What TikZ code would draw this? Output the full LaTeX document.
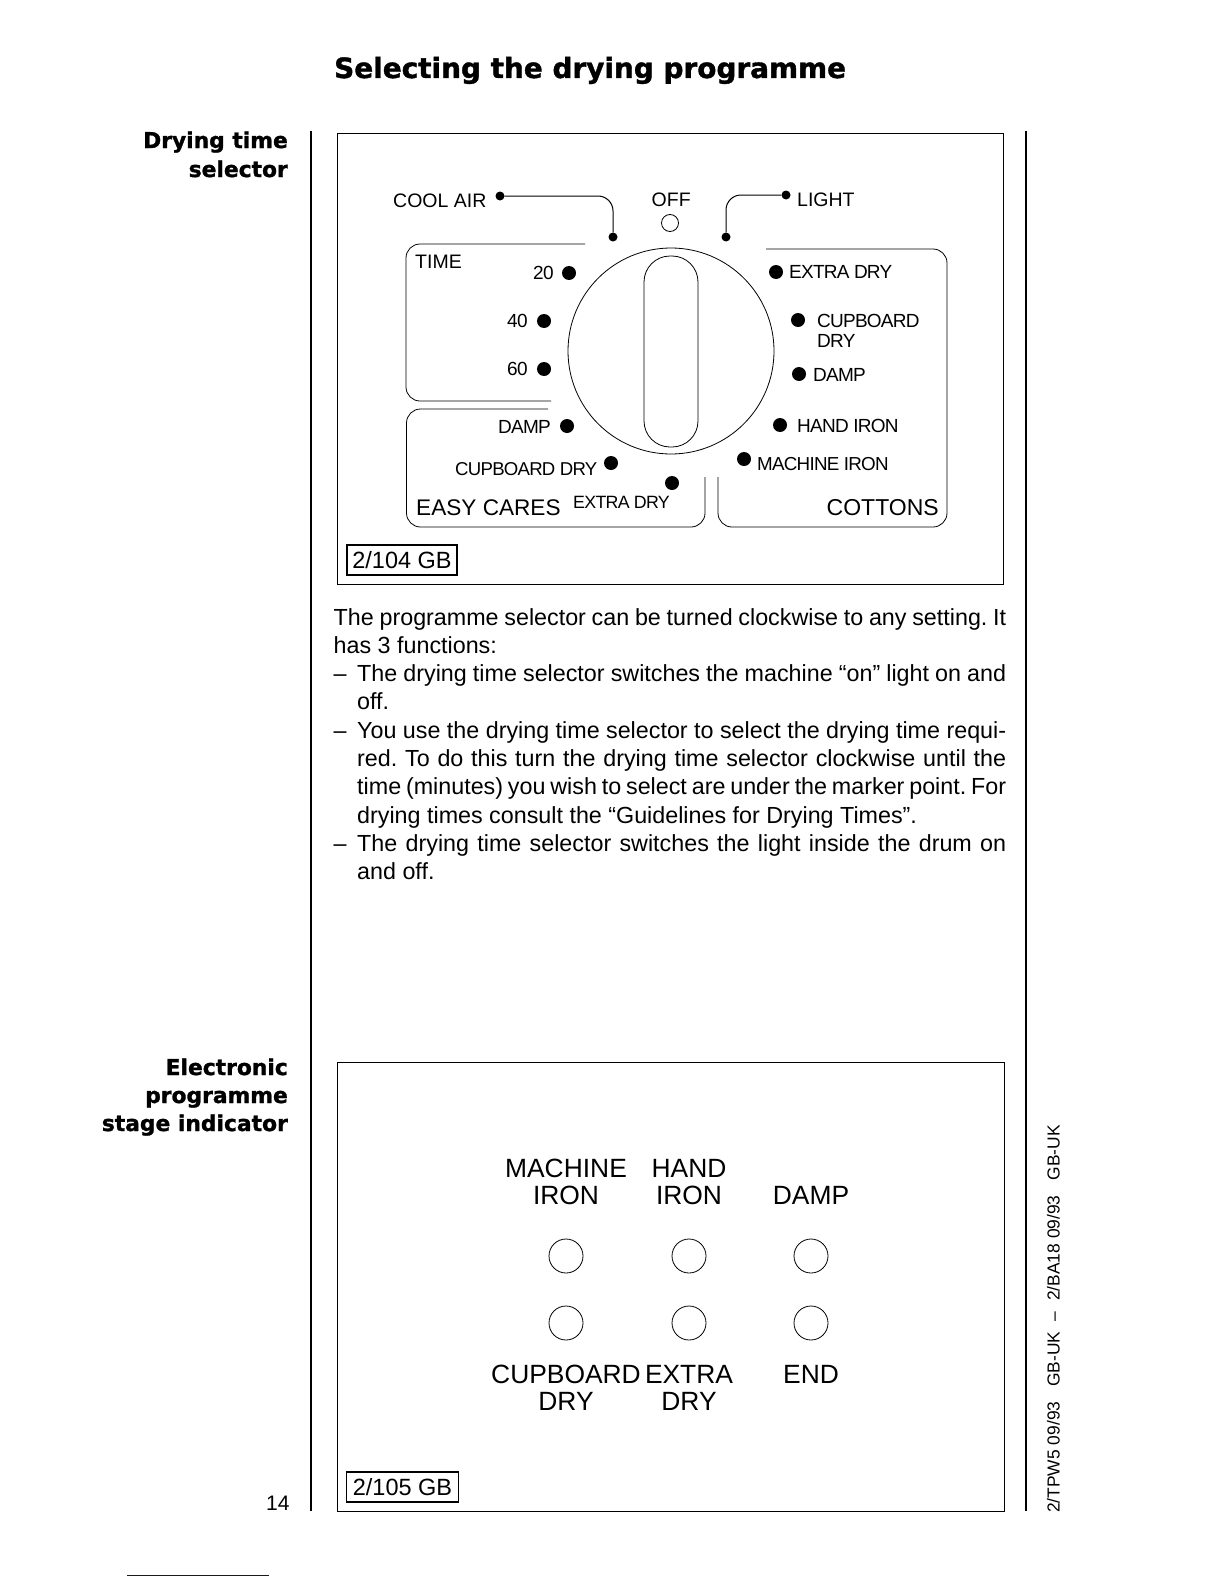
\documentclass[tikz,border=0pt]{standalone}
\usepackage{fontspec}
\setmainfont{Liberation Sans}
\newfontfamily\headfont[FakeBold=1.3]{DejaVu Sans Bold}
\newfontfamily\tightfont[LetterSpace=-4]{Liberation Sans}
\definecolor{pageblue}{RGB}{10,10,150}
\frenchspacing
\tikzset{
    txt/.style={anchor=base west, inner sep=0pt},
    plainlbl/.style={txt, font=\fontsize{19.5}{23}\selectfont},
    tightlbl/.style={txt, font=\tightfont\fontsize{19}{20}\selectfont},
    biglbl/.style={txt, font=\fontsize{22.6}{27}\selectfont},
    paneltxt/.style={anchor=base, inner sep=0pt, font=\fontsize{26.4}{27}\selectfont},
    bigdot/.style={circle, fill=black, inner sep=0pt, minimum size=14},
    smalldot/.style={circle, fill=black, inner sep=0pt, minimum size=9},
    lamp/.style={circle, draw, line width=0.8pt, inner sep=0pt, minimum size=34},
    tagbox/.style={draw, line width=1.1pt, inner sep=0pt, font=\fontsize{23.5}{26}\selectfont},
    bodytxt/.style={anchor=north west, inner sep=0pt, align=justify, font=\fontsize{23.3}{28.3}\selectfont},
    sidehead/.style={anchor=base east, inner sep=0pt, font=\headfont\fontsize{21.8}{25}\selectfont}
}
\begin{document}
\begin{tikzpicture}[x=1pt, y=-1pt]
    \useasboundingbox (0,0) rectangle (1224,1584);

    %Ueberschriften
    \node (title) at (334,78) [txt, font=\headfont\fontsize{27.9}{30}\selectfont] {Selecting the drying programme};
    \node (headone) at (288,148) [sidehead] {Drying time};
    \node (headtwo) at (288,177) [sidehead] {selector};
    \node (headthree) at (288,1075) [sidehead] {Electronic};
    \node (headfour) at (288,1103) [sidehead] {programme};
    \node (headfive) at (288,1131) [sidehead] {stage indicator};
    \node (pageno) at (266,1510) [txt, font=\fontsize{21}{24}\selectfont] {14};

    %Linien und Rahmen
    \draw[line width=1.5pt] (311,131) -- (311,1511);
    \draw[line width=1.5pt] (1026,131) -- (1026,1511);
    \draw[line width=1pt] (337,134) rectangle (1003,584);
    \draw[line width=1pt] (337,1062) rectangle (1004,1511);
    \draw[line width=1pt, pageblue] (127,1575) -- (269,1575);

    %Drehknopf
    \node (dial) at (671,351) [circle, draw, line width=0.8pt, inner sep=0pt, minimum size=206] {};
    \node (grip) at (671,351.5) [draw, line width=0.8pt, rounded corners=26, inner sep=0pt, minimum width=54, minimum height=191] {};
    \draw[line width=0.8pt, rounded corners=14] (585,244) -- (406,244) -- (406,401) -- (551,401);
    \draw[line width=0.8pt, rounded corners=14] (548,409) -- (406.5,409) -- (406.5,527) -- (705,527) -- (705,477);
    \draw[line width=0.8pt, rounded corners=14] (766,249) -- (947,249) -- (947,527) -- (718,527) -- (718,477);

    %obere Beschriftung
    \node (coolair) at (393,207) [plainlbl] {COOL AIR};
    \node (off) at (651.5,206) [plainlbl] {OFF};
    \node (light) at (797,206) [plainlbl] {LIGHT};
    \node (offlamp) at (670,223) [circle, draw, line width=0.8pt, inner sep=0pt, minimum size=17] {};
    \node (coolstart) at (500,196) [smalldot] {};
    \node (coolend) at (613,237) [smalldot] {};
    \node (lightstart) at (786,195) [smalldot] {};
    \node (lightend) at (726,237) [smalldot] {};
    \draw[line width=1pt, rounded corners=15] (coolstart) -| (coolend);
    \draw[line width=1pt, rounded corners=15] (lightstart) -| (lightend);

    %Zeit
    \node (time) at (415,268) [plainlbl] {TIME};
    \node (t20) at (533,279) [tightlbl] {20};
    \node (t40) at (507,327) [tightlbl] {40};
    \node (t60) at (507,375) [tightlbl] {60};
    \node (dott20) at (569,273) [bigdot] {};
    \node (dott40) at (544,321) [bigdot] {};
    \node (dott60) at (544,369) [bigdot] {};

    %Easy Cares
    \node (edamp) at (498,433) [tightlbl] {DAMP};
    \node (ecup) at (455,475) [tightlbl, font=\tightfont\fontsize{18.6}{20}\selectfont] {CUPBOARD DRY};
    \node (eextra) at (573,508) [tightlbl, font=\tightfont\fontsize{17.8}{20}\selectfont] {EXTRA DRY};
    \node (easy) at (416,515) [biglbl] {EASY CARES};
    \node (dotedamp) at (567,426) [bigdot] {};
    \node (dotecup) at (611,463) [bigdot] {};
    \node (doteextra) at (672,483) [bigdot] {};

    %Cottons
    \node (cextra) at (789,278) [tightlbl] {EXTRA DRY};
    \node (ccup) at (817,327) [tightlbl] {CUPBOARD};
    \node (ccupb) at (817,347) [tightlbl] {DRY};
    \node (cdamp) at (813,381) [tightlbl] {DAMP};
    \node (chand) at (797,432) [tightlbl] {HAND IRON};
    \node (cmach) at (757,470) [tightlbl, font=\tightfont\fontsize{18.8}{20}\selectfont] {MACHINE IRON};
    \node (cottons) at (826.5,515) [biglbl, font=\fontsize{23}{27}\selectfont] {COTTONS};
    \node (dotcextra) at (776,272) [bigdot] {};
    \node (dotccup) at (798,320) [bigdot] {};
    \node (dotcdamp) at (799,374) [bigdot] {};
    \node (dotchand) at (780,425) [bigdot] {};
    \node (dotcmach) at (744,459) [bigdot] {};

    \node (tagone) at (402,560) [tagbox, minimum width=110, minimum height=30] {2/104 GB};

    %Text
    \node (intro) at (333.5,605.2) [bodytxt, text width=672.5] {\strut The programme selector can be turned clockwise to any setting. It\linebreak has 3 functions:};
    \node (dashone) at (333.5,681) [txt, font=\fontsize{23.3}{28.3}\selectfont] {--};
    \node (itemone) at (357,661.2) [bodytxt, text width=649] {\strut The drying time selector switches the machine ``on'' light on and\linebreak off.};
    \node (dashtwo) at (333.5,738) [txt, font=\fontsize{23.3}{28.3}\selectfont] {--};
    \node (itemtwo) at (357,718.2) [bodytxt, text width=649] {\strut You use the drying time selector to select the drying time requi-\linebreak red. To do this turn the drying time selector clockwise until the\linebreak time (minutes) you wish to select are under the marker point. For\linebreak drying times consult the ``Guidelines for Drying Times''.};
    \node (dashthree) at (333.5,851) [txt, font=\fontsize{23.3}{28.3}\selectfont] {--};
    \node (itemthree) at (357,831.2) [bodytxt, text width=649] {\strut The drying time selector switches the light inside the drum on\linebreak and off.};

    %Anzeige
    \node (machine) at (566,1177) [paneltxt] {MACHINE};
    \node (machineb) at (566,1204) [paneltxt] {IRON};
    \node (hand) at (689,1177) [paneltxt] {HAND};
    \node (handb) at (689,1204) [paneltxt] {IRON};
    \node (damp) at (811,1204) [paneltxt] {DAMP};
    \node (lampa) at (566,1256) [lamp] {};
    \node (lampb) at (689,1256) [lamp] {};
    \node (lampc) at (811,1256) [lamp] {};
    \node (lampd) at (566,1323) [lamp] {};
    \node (lampe) at (689,1323) [lamp] {};
    \node (lampf) at (811,1323) [lamp] {};
    \node (cupboard) at (566,1383) [paneltxt] {CUPBOARD};
    \node (cupboardb) at (566,1410) [paneltxt] {DRY};
    \node (extra) at (689,1383) [paneltxt] {EXTRA};
    \node (extrab) at (689,1410) [paneltxt] {DRY};
    \node (endlbl) at (811,1383) [paneltxt] {END};
    \node (tagtwo) at (402.5,1487) [tagbox, minimum width=112, minimum height=30] {2/105 GB};

    %Randtext
    \node (margin) at (1059.5,1513) [txt, rotate=90, font=\fontsize{17.4}{20}\selectfont] {2/TPW5 09/93\hspace{15pt}GB-UK\hspace{10.5pt}--\hspace{10.5pt}2/BA18 09/93\hspace{15pt}GB-UK};
\end{tikzpicture}
\end{document}
